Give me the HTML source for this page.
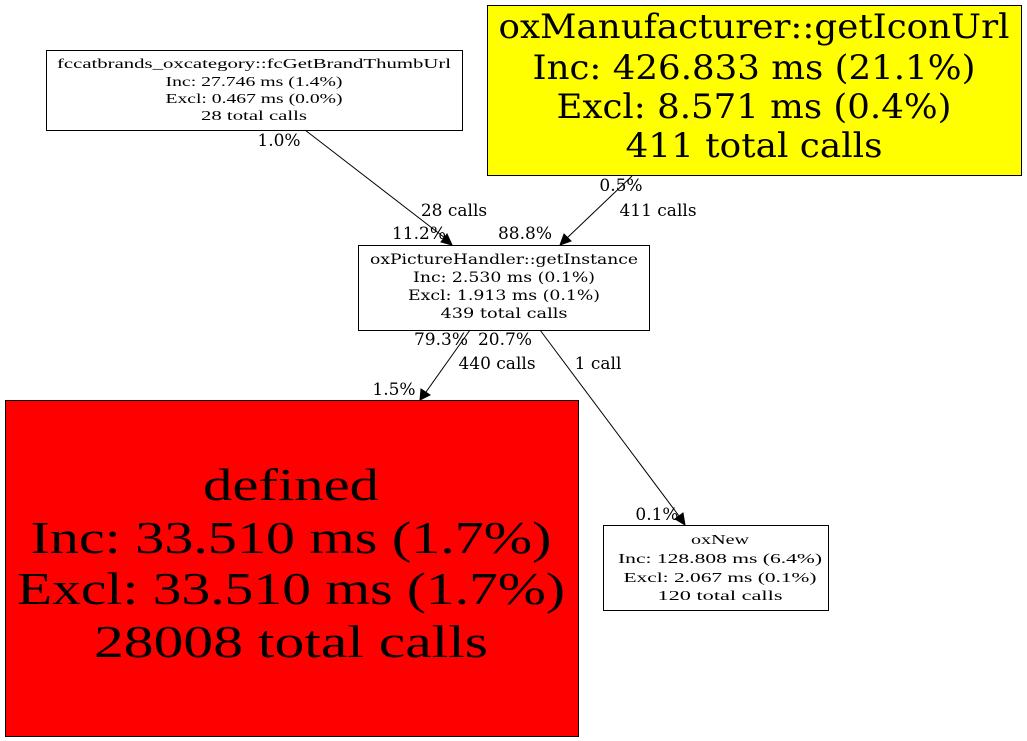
<!DOCTYPE html>
<html><head><meta charset="utf-8"><style>html,body{margin:0;padding:0;background:#fff}svg{display:block}</style></head>
<body>
<svg width="1027" height="741" viewBox="0 0 1027 741" xmlns="http://www.w3.org/2000/svg" font-family="DejaVu Serif, Liberation Serif, serif" text-anchor="middle">
<rect x="0" y="0" width="1027" height="741" fill="#fff"/>
<rect x="46.5" y="50.5" width="416" height="80" fill="#fff" stroke="#000"/>
<g font-family="Liberation Serif, serif" font-size="14">
<text x="254" y="68" textLength="394" lengthAdjust="spacingAndGlyphs">fccatbrands_oxcategory::fcGetBrandThumbUrl</text>
<text x="254" y="86" textLength="177" lengthAdjust="spacingAndGlyphs">Inc: 27.746 ms (1.4%)</text>
<text x="254" y="103" textLength="177" lengthAdjust="spacingAndGlyphs">Excl: 0.467 ms (0.0%)</text>
<text x="254" y="120" textLength="106" lengthAdjust="spacingAndGlyphs">28 total calls</text>
</g>
<rect x="487.5" y="5.5" width="534" height="170" fill="#ffff00" stroke="#000"/>
<g font-size="34">
<text x="754" y="38" textLength="511" lengthAdjust="spacingAndGlyphs">oxManufacturer::getIconUrl</text>
<text x="754" y="79" textLength="443" lengthAdjust="spacingAndGlyphs">Inc: 426.833 ms (21.1%)</text>
<text x="754" y="118" textLength="395" lengthAdjust="spacingAndGlyphs">Excl: 8.571 ms (0.4%)</text>
<text x="754" y="157" textLength="257" lengthAdjust="spacingAndGlyphs">411 total calls</text>
</g>
<rect x="358.5" y="245.5" width="291" height="85" fill="#fff" stroke="#000"/>
<g font-size="14">
<text x="504" y="264" textLength="268" lengthAdjust="spacingAndGlyphs">oxPictureHandler::getInstance</text>
<text x="504" y="282" textLength="182" lengthAdjust="spacingAndGlyphs">Inc: 2.530 ms (0.1%)</text>
<text x="504" y="300" textLength="192" lengthAdjust="spacingAndGlyphs">Excl: 1.913 ms (0.1%)</text>
<text x="504" y="318" textLength="127" lengthAdjust="spacingAndGlyphs">439 total calls</text>
</g>
<rect x="5.5" y="400.5" width="573" height="336" fill="#ff0000" stroke="#000"/>
<g font-family="Liberation Serif, serif" font-size="46">
<text x="291" y="500" textLength="176" lengthAdjust="spacingAndGlyphs">defined</text>
<text x="291" y="553" textLength="521" lengthAdjust="spacingAndGlyphs">Inc: 33.510 ms (1.7%)</text>
<text x="291" y="604" textLength="548" lengthAdjust="spacingAndGlyphs">Excl: 33.510 ms (1.7%)</text>
<text x="291" y="657" textLength="394" lengthAdjust="spacingAndGlyphs">28008 total calls</text>
</g>
<rect x="603.5" y="525.5" width="225" height="85" fill="#fff" stroke="#000"/>
<g font-family="Liberation Serif, serif" font-size="14">
<text x="720" y="544" textLength="58" lengthAdjust="spacingAndGlyphs">oxNew</text>
<text x="720" y="563" textLength="204" lengthAdjust="spacingAndGlyphs">Inc: 128.808 ms (6.4%)</text>
<text x="720" y="582" textLength="193" lengthAdjust="spacingAndGlyphs">Excl: 2.067 ms (0.1%)</text>
<text x="720" y="600" textLength="125" lengthAdjust="spacingAndGlyphs">120 total calls</text>
</g>
<g stroke="#000" fill="none">
<line x1="305" y1="130" x2="445" y2="238"/>
<line x1="632" y1="176" x2="567" y2="238"/>
<line x1="470" y1="330" x2="426" y2="392"/>
<line x1="540" y1="330" x2="679" y2="516"/>
</g>
<g fill="#000" stroke="#000">
<polygon points="452,245 441,242 447,234"/>
<polygon points="560,245 564,234 571,241"/>
<polygon points="420,400 421,389 430,395"/>
<polygon points="685,525 675,519 683,513"/>
</g>
<g font-size="17">
<text x="279" y="146">1.0%</text>
<text x="454" y="216">28 calls</text>
<text x="419" y="239">11.2%</text>
<text x="525" y="239">88.8%</text>
<text x="621" y="191">0.5%</text>
<text x="658" y="216">411 calls</text>
<text x="441" y="345">79.3%</text>
<text x="505" y="345">20.7%</text>
<text x="497" y="369">440 calls</text>
<text x="598" y="369">1 call</text>
<text x="394" y="395">1.5%</text>
<text x="657" y="520">0.1%</text>
</g>
</svg>
</body></html>
